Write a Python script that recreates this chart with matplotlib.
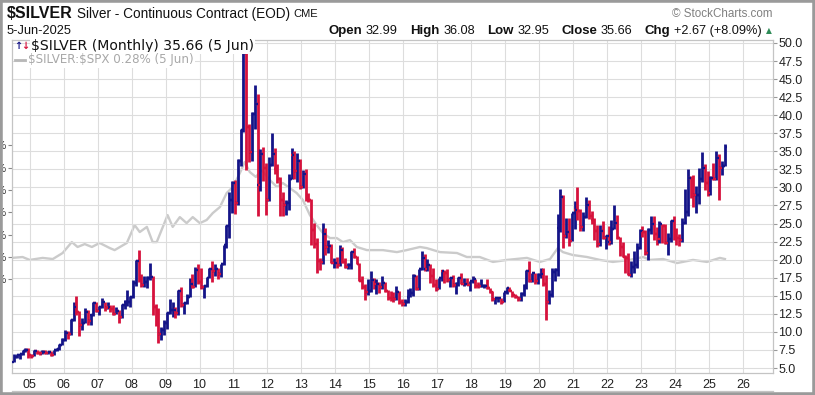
import matplotlib
matplotlib.use("Agg")
import matplotlib.pyplot as plt
from matplotlib.patches import Rectangle
from matplotlib.lines import Line2D

# === figure size in pixels ===
W, H, DPI = 815, 395, 100

# === monthly OHLC for $SILVER, Jul 2004 .. Jun 2025 ===
start_year, start_month = 2004, 7

opens = [
    5.86, 6.56, 6.77, 6.92, 7.30, 7.55,
    6.82, 6.70, 7.39, 7.13, 7.02, 7.28, 7.05, 7.15, 6.85, 7.50, 7.70, 8.20,
    8.83, 9.85, 9.65, 11.60, 13.50, 12.80, 10.90, 11.30, 12.80, 11.55, 12.35, 13.95,
    12.90, 13.40, 14.10, 13.35, 13.40, 13.20, 12.50, 12.90, 12.10, 13.70, 14.20, 14.20,
    14.80, 16.80, 19.80, 17.30, 16.50, 16.90, 17.50, 17.60, 13.40, 12.90, 9.70, 10.20,
    11.30, 12.60, 13.10, 13.10, 12.60, 15.60, 13.70, 14.00, 14.90, 16.60, 16.20, 18.60,
    16.90, 16.20, 16.40, 17.50, 18.70, 18.40, 18.70, 18.00, 19.40, 22.00, 24.60, 28.20,
    30.60, 27.90, 33.60, 37.90, 48.60, 38.40, 34.90, 40.10, 41.60, 30.40, 34.60, 32.70,
    28.20, 33.10, 34.60, 32.50, 31.20, 28.30, 27.60, 27.90, 31.20, 34.50, 32.30, 33.60,
    30.00, 31.80, 28.40, 28.30, 24.10, 22.20, 19.80, 19.70, 23.50, 21.70, 21.90, 19.50,
    19.50, 19.20, 21.30, 19.70, 19.05, 19.30, 21.00, 20.40, 19.40, 17.00, 16.20, 15.50,
    15.60, 17.20, 16.60, 16.60, 16.20, 16.80, 15.60, 14.70, 14.60, 14.50, 15.50, 14.10,
    13.80, 14.20, 14.80, 15.40, 17.80, 15.90, 18.70, 20.30, 18.70, 19.20, 17.80, 16.50,
    15.90, 17.50, 18.40, 18.20, 17.20, 17.40, 16.50, 16.70, 17.50, 16.60, 16.70, 16.50,
    17.00, 17.30, 16.40, 16.30, 16.30, 16.40, 16.10, 15.50, 14.50, 14.70, 14.70, 14.20,
    15.50, 16.10, 15.60, 15.10, 14.90, 14.60, 15.30, 16.40, 18.40, 17.00, 18.10, 17.00,
    17.90, 18.00, 16.60, 14.20, 15.10, 18.30, 18.60, 24.40, 28.70, 23.30, 23.90, 22.60,
    26.40, 26.90, 26.70, 24.50, 25.90, 27.60, 26.10, 25.50, 24.00, 22.20, 24.00, 23.00,
    23.30, 22.40, 24.30, 25.10, 23.00, 21.70, 20.40, 20.30, 17.90, 19.00, 19.20, 21.60,
    24.00, 23.90, 20.90, 24.10, 25.00, 23.60, 22.80, 24.90, 24.60, 22.30, 22.90, 25.30,
    24.10, 23.00, 22.70, 25.10, 26.60, 31.30, 29.40, 28.90, 28.90, 31.20, 32.70, 30.60,
    29.20, 31.30, 31.20, 34.10, 32.70, 32.99,
]
highs = [
    6.90, 6.95, 7.00, 7.45, 7.82, 7.75,
    7.00, 7.45, 7.55, 7.30, 7.45, 7.50, 7.30, 7.30, 7.55, 7.80, 8.30, 9.20,
    10.20, 10.10, 11.80, 14.15, 14.95, 12.90, 11.95, 13.30, 13.00, 12.50, 14.15, 14.20,
    13.60, 14.65, 14.20, 14.15, 13.70, 13.70, 13.50, 13.00, 13.80, 14.35, 15.80, 15.00,
    17.20, 20.00, 21.40, 18.00, 17.70, 17.70, 19.50, 17.75, 13.85, 13.25, 10.70, 11.60,
    12.80, 14.60, 14.20, 13.40, 15.75, 16.20, 14.15, 15.30, 17.50, 18.00, 18.95, 19.45,
    18.85, 16.50, 17.65, 18.80, 19.80, 19.40, 18.80, 19.45, 22.10, 24.80, 29.30, 30.90,
    31.00, 34.00, 38.15, 48.70, 48.70, 38.80, 40.40, 44.25, 43.00, 35.30, 35.60, 33.40,
    34.20, 37.50, 35.40, 33.25, 31.40, 29.40, 28.30, 31.80, 35.40, 35.00, 34.70, 34.00,
    32.40, 32.50, 29.20, 28.45, 25.10, 22.95, 20.30, 25.10, 24.40, 22.75, 22.15, 20.20,
    20.40, 22.05, 21.80, 20.20, 19.50, 21.25, 21.60, 20.50, 19.60, 17.80, 16.70, 17.30,
    18.50, 17.50, 17.30, 16.90, 17.80, 16.85, 15.75, 15.70, 15.50, 16.40, 15.60, 14.60,
    14.60, 15.90, 16.10, 18.00, 17.90, 18.70, 21.20, 20.80, 20.10, 19.35, 18.85, 17.30,
    17.50, 18.50, 18.55, 18.65, 17.60, 17.90, 16.95, 17.60, 18.20, 17.45, 17.40, 17.10,
    17.70, 17.35, 16.90, 17.35, 16.70, 17.30, 16.10, 15.60, 14.75, 14.80, 14.75, 15.55,
    16.20, 16.20, 15.70, 15.30, 14.95, 15.50, 16.60, 18.60, 19.75, 18.20, 18.20, 18.10,
    18.90, 18.90, 17.90, 15.85, 18.80, 18.80, 26.30, 29.80, 28.90, 25.70, 25.80, 26.50,
    28.10, 30.10, 27.00, 26.60, 28.70, 28.25, 26.70, 25.80, 24.85, 24.85, 25.40, 23.40,
    24.70, 25.50, 27.50, 26.20, 23.20, 22.50, 20.60, 20.95, 19.80, 21.20, 22.25, 24.30,
    24.65, 24.10, 24.40, 26.10, 26.10, 24.55, 25.30, 25.00, 24.90, 23.70, 25.50, 26.00,
    24.40, 23.50, 25.80, 29.80, 32.50, 31.55, 31.75, 30.20, 32.70, 34.90, 33.20, 32.30,
    31.60, 33.40, 35.00, 34.60, 33.70, 36.08,
]
lows = [
    5.85, 6.40, 6.25, 6.85, 7.20, 6.40,
    6.35, 6.65, 6.95, 6.80, 6.95, 6.95, 6.90, 6.65, 6.80, 7.40, 7.55, 8.20,
    8.80, 9.00, 9.60, 11.50, 12.30, 9.50, 10.30, 11.25, 10.90, 10.95, 12.20, 12.70,
    12.30, 13.25, 12.95, 13.20, 12.80, 12.35, 12.50, 11.25, 11.95, 13.15, 13.60, 13.40,
    14.70, 16.40, 16.95, 16.20, 16.15, 16.10, 17.20, 12.40, 10.75, 8.45, 8.85, 9.55,
    10.40, 12.50, 12.10, 11.95, 12.40, 13.45, 12.50, 13.80, 14.80, 16.05, 16.15, 16.60,
    16.00, 14.65, 16.20, 17.40, 16.90, 17.80, 17.30, 17.60, 19.25, 21.60, 22.95, 26.50,
    26.30, 27.60, 32.90, 37.70, 32.35, 33.50, 33.60, 38.10, 26.10, 29.50, 30.90, 26.20,
    28.10, 32.90, 31.90, 30.60, 26.10, 26.10, 26.15, 26.90, 31.20, 31.20, 30.70, 29.80,
    29.90, 28.10, 27.95, 22.00, 21.60, 18.20, 18.60, 19.40, 20.60, 20.95, 19.50, 18.85,
    18.90, 19.10, 19.50, 18.90, 18.70, 18.70, 20.30, 19.40, 17.00, 15.90, 14.40, 15.10,
    15.50, 15.90, 15.30, 15.40, 15.90, 15.50, 14.40, 14.25, 14.20, 14.40, 13.90, 13.60,
    13.60, 14.00, 14.80, 15.00, 15.80, 15.80, 18.60, 18.50, 18.50, 16.80, 16.20, 15.60,
    15.90, 17.10, 16.80, 16.90, 16.20, 16.20, 15.20, 16.40, 16.60, 16.40, 16.50, 15.65,
    16.80, 16.10, 16.10, 16.20, 16.10, 16.00, 15.35, 14.30, 13.90, 14.20, 13.90, 14.10,
    15.30, 15.60, 14.80, 14.75, 14.30, 14.30, 15.00, 16.00, 16.90, 16.95, 16.60, 16.60,
    17.40, 16.35, 11.65, 13.85, 14.80, 17.10, 17.80, 23.80, 21.65, 23.00, 21.85, 22.60,
    24.30, 25.50, 24.00, 24.00, 25.80, 25.60, 25.00, 22.70, 21.75, 21.90, 22.80, 21.45,
    22.05, 22.20, 24.20, 22.80, 20.50, 20.40, 18.20, 17.90, 17.60, 18.10, 18.80, 21.50,
    23.10, 20.60, 19.90, 23.60, 22.70, 22.10, 22.30, 22.30, 22.20, 20.70, 22.50, 22.70,
    22.10, 21.95, 22.50, 25.00, 26.00, 28.60, 27.30, 26.50, 27.70, 30.70, 29.70, 28.80,
    29.00, 31.00, 31.00, 28.30, 31.70, 32.95,
]
closes = [
    6.56, 6.77, 6.92, 7.30, 7.55, 6.82,
    6.70, 7.39, 7.13, 7.02, 7.28, 7.05, 7.15, 6.85, 7.50, 7.70, 8.20, 8.83,
    9.85, 9.65, 11.60, 13.50, 12.80, 10.90, 11.30, 12.80, 11.55, 12.35, 13.95, 12.90,
    13.40, 14.10, 13.35, 13.40, 13.20, 12.50, 12.90, 12.10, 13.70, 14.20, 14.20, 14.80,
    16.80, 19.80, 17.30, 16.50, 16.90, 17.50, 17.60, 13.40, 12.90, 9.70, 10.20, 11.30,
    12.60, 13.10, 13.10, 12.60, 15.60, 13.70, 14.00, 14.90, 16.60, 16.20, 18.60, 16.90,
    16.20, 16.40, 17.50, 18.70, 18.40, 18.70, 18.00, 19.40, 22.00, 24.60, 28.20, 30.60,
    27.90, 33.60, 37.90, 48.60, 38.40, 34.90, 40.10, 41.60, 30.40, 34.60, 32.70, 28.20,
    33.10, 34.60, 32.50, 31.20, 28.30, 27.60, 27.90, 31.20, 34.50, 32.30, 33.60, 30.00,
    31.80, 28.40, 28.30, 24.10, 22.20, 19.80, 19.70, 23.50, 21.70, 21.90, 19.50, 19.50,
    19.20, 21.30, 19.70, 19.05, 19.30, 21.00, 20.40, 19.40, 17.00, 16.20, 15.50, 15.60,
    17.20, 16.60, 16.60, 16.20, 16.80, 15.60, 14.70, 14.60, 14.50, 15.50, 14.10, 13.80,
    14.20, 14.80, 15.40, 17.80, 15.90, 18.70, 20.30, 18.70, 19.20, 17.80, 16.50, 15.90,
    17.50, 18.40, 18.20, 17.20, 17.40, 16.50, 16.70, 17.50, 16.60, 16.70, 16.50, 17.00,
    17.30, 16.40, 16.30, 16.30, 16.40, 16.10, 15.50, 14.50, 14.70, 14.70, 14.20, 15.50,
    16.10, 15.60, 15.10, 14.90, 14.60, 15.30, 16.40, 18.40, 17.00, 18.10, 17.00, 17.90,
    18.00, 16.60, 14.20, 15.10, 18.30, 18.60, 24.40, 28.70, 23.30, 23.90, 22.60, 26.40,
    26.90, 26.70, 24.50, 25.90, 27.60, 26.10, 25.50, 24.00, 22.20, 24.00, 23.00, 23.30,
    22.40, 24.30, 25.10, 23.00, 21.70, 20.40, 20.30, 17.90, 19.00, 19.20, 21.60, 24.00,
    23.90, 20.90, 24.10, 25.00, 23.60, 22.80, 24.90, 24.60, 22.30, 22.90, 25.30, 24.10,
    23.00, 22.70, 25.10, 26.60, 31.30, 29.40, 28.90, 28.90, 31.20, 32.70, 30.60, 29.20,
    31.30, 31.20, 34.10, 32.70, 32.99, 35.66,
]

# === $SILVER:$SPX ratio (percent) ===
ratio_dates = [
    2004.47, 2004.79, 2005.00, 2005.38, 2005.68, 2005.97, 2006.24, 2006.41, 2006.62,
    2006.83, 2007.06, 2007.36, 2007.50, 2007.86, 2008.09, 2008.24, 2008.45, 2008.62,
    2008.74, 2009.06, 2009.21, 2009.42, 2009.62, 2009.80, 2010.01, 2010.21, 2010.39,
    2010.60, 2010.80, 2010.98, 2011.19, 2011.33, 2011.48, 2011.66, 2011.83, 2012.07,
    2012.28, 2012.45, 2012.66, 2012.86, 2013.04, 2013.25, 2013.45, 2013.63, 2013.84,
    2014.04, 2014.22, 2014.43, 2014.63, 2014.93, 2015.40, 2015.81, 2016.10, 2016.49,
    2016.69, 2017.08, 2017.58, 2017.87, 2018.25, 2018.64, 2019.05, 2019.64, 2020.02,
    2020.32, 2020.55, 2020.70, 2020.99, 2021.41, 2021.79, 2022.17, 2022.67, 2023.06,
    2023.26, 2023.65, 2024.06, 2024.53, 2024.94, 2025.32, 2025.47,
]
ratio_pct = [
    0.296, 0.300, 0.287, 0.296, 0.291, 0.318, 0.367, 0.345, 0.358,
    0.345, 0.363, 0.340, 0.331, 0.363, 0.443, 0.412, 0.435, 0.367,
    0.367, 0.488, 0.435, 0.479, 0.452, 0.479, 0.452, 0.466, 0.497,
    0.524, 0.587, 0.614, 0.677, 0.726, 0.681, 0.659, 0.690, 0.645,
    0.614, 0.632, 0.609, 0.587, 0.556, 0.488, 0.443, 0.408, 0.385,
    0.385, 0.367, 0.376, 0.345, 0.331, 0.331, 0.322, 0.331, 0.345,
    0.340, 0.322, 0.318, 0.300, 0.300, 0.278, 0.287, 0.296, 0.278,
    0.291, 0.340, 0.322, 0.309, 0.300, 0.287, 0.278, 0.287, 0.300,
    0.287, 0.291, 0.273, 0.287, 0.278, 0.296, 0.291,
]

year_ticks = list(range(2005, 2027))
year_labels = ["%02d" % (y % 100) for y in year_ticks]
price_ticks = [5.0 + 2.5 * i for i in range(19)]
ratio_ticks = [0.2, 0.3, 0.4, 0.5, 0.6, 0.7, 0.8]

UP = "#141488"
DOWN = "#d6123c"
GRID = "#dddddd"
FRAME = "#c4c4c4"
SANS = "Liberation Sans"

assert len(opens) == len(highs) == len(lows) == len(closes) == 252

fig = plt.figure(figsize=(W / DPI, H / DPI), dpi=DPI)
fig.patch.set_facecolor("white")
renderer = fig.canvas.get_renderer()

# plot box in pixels: x 12..773, y 40..373 (from top)
L, R, T, B = 11.7, 773, 40, 373
rect = [L / W, 1 - B / H, (R - L) / W, (B - T) / H]

# === ratio axes (underneath) ===
axr = fig.add_axes(rect)
axr.set_facecolor("white")
axr.plot(ratio_dates, ratio_pct, color="#cbcbcb", lw=1.7, zorder=1)
axr.set_xlim(2004.47, 2026.885)
axr.set_ylim(-0.220, 1.273)
axr.set_yticks(ratio_ticks)
axr.set_yticklabels(["%.1f%%" % v for v in ratio_ticks], fontsize=8, family=SANS, color="#333333")
axr.tick_params(axis="y", length=3, width=0.8, color="#888888", pad=0.5)
axr.set_xticks([])
for s in axr.spines.values():
    s.set_visible(False)

# === price axes (on top) ===
ax = fig.add_axes(rect)
ax.patch.set_visible(False)
ax.set_xlim(2004.47, 2026.885)
ax.set_ylim(4.308, 50.415)
ax.set_axisbelow(True)
ax.grid(True, color=GRID, lw=0.8)
ax.set_xticks(year_ticks)
ax.set_xticklabels(year_labels, fontsize=9, family=SANS, color="#222222")
ax.set_yticks(price_ticks)
ax.set_yticklabels(["%.1f" % v for v in price_ticks], fontsize=9, family=SANS, color="#222222")
ax.yaxis.tick_right()
ax.tick_params(axis="y", length=3, width=0.8, color="#999999", pad=1)
ax.tick_params(axis="x", length=0, pad=4)
for s in ax.spines.values():
    s.set_color(FRAME)
    s.set_linewidth(0.9)

# === OHLC bars ===
xs = []
cols = []
prev = opens[0]
for i in range(len(closes)):
    m = start_month - 1 + i
    xs.append(start_year + m // 12 + (m % 12) / 12 + 1 / 24)
    cols.append(UP if closes[i] >= prev else DOWN)
    prev = closes[i]

tick = 0.085
ax.vlines(xs, lows, highs, colors=cols, lw=2.0, zorder=3)
ax.hlines(opens, [x - tick for x in xs], xs, colors=cols, lw=1.7, zorder=3)
ax.hlines(closes, xs, [x + tick for x in xs], colors=cols, lw=1.7, zorder=3)


def run(x, y, parts, right=False):
    """write text pieces one after another, x/y in pixels from top-left.
    each piece carries the gap to the piece on its left."""
    if right:
        for i in range(len(parts) - 1, -1, -1):
            s, gap, kw = parts[i]
            t = fig.text(x / W, 1 - y / H, s, va="center", ha="right", parse_math=False, **kw)
            x = t.get_window_extent(renderer).x0 - gap
    else:
        for s, gap, kw in parts:
            x += gap
            t = fig.text(x / W, 1 - y / H, s, va="center", ha="left", parse_math=False, **kw)
            x = t.get_window_extent(renderer).x1
    return x


bold = dict(family=SANS, fontweight="bold", fontsize=9.5, color="#111111")
reg = dict(family=SANS, fontsize=9.2, color="#111111")

# === header ===
run(7, 14, [
    ("$SILVER", 0, dict(family=SANS, fontweight="bold", fontsize=11.5, color="#111111")),
    ("Silver - Continuous Contract (EOD)", 4, dict(family=SANS, fontsize=9.8, color="#111111")),
    ("CME", 4, dict(family=SANS, fontsize=8, color="#111111")),
])
fig.text(772 / W, 1 - 14 / H, "\u00a9 StockCharts.com", ha="right", va="center",
         family=SANS, fontsize=8.4, color="#808080")
fig.text(7 / W, 1 - 31 / H, "5-Jun-2025", ha="left", va="center", family=SANS,
         fontsize=9.2, color="#111111")
run(762, 31, [
    ("Open", 0, bold), ("32.99", 4, reg),
    ("High", 12, bold), ("36.08", 4, reg),
    ("Low", 12, bold), ("32.95", 4, reg),
    ("Close", 12, bold), ("35.66", 4, reg),
    ("Chg", 12, bold), ("+2.67 (+8.09%)", 4, reg),
], right=True)
fig.text(766 / W, 1 - 31 / H, "\u25b2", ha="left", va="center", family="DejaVu Sans",
         fontsize=5.5, color="#2e8b57")

# === in-chart legend ===
box = dict(boxstyle="square,pad=0.1", fc="white", ec="none")
fig.text(14 / W, 1 - 46 / H, "\u2191", color=UP, fontsize=7, family="DejaVu Sans",
         va="center", fontweight="bold")
fig.text(21.5 / W, 1 - 46 / H, "\u2193", color=DOWN, fontsize=7, family="DejaVu Sans",
         va="center", fontweight="bold")
fig.text(31 / W, 1 - 46 / H, "$SILVER (Monthly) 35.66 (5 Jun)", color="#111111",
         fontsize=10.1, family="DejaVu Sans", va="center", bbox=box, parse_math=False)
fig.add_artist(Line2D([15 / W, 25 / W], [1 - 60 / H, 1 - 60 / H], color="#b8b8b8", lw=2))
fig.text(28 / W, 1 - 60 / H, "$SILVER:$SPX 0.28% (5 Jun)", color="#a8a8a8",
         fontsize=8.6, family="DejaVu Sans", va="center", bbox=box, parse_math=False)

# === outer frame and start of the next panel ===
fig.add_artist(Line2D([L / W, R / W], [1 - 391 / H, 1 - 391 / H], color=FRAME, lw=0.9))
fig.add_artist(Rectangle((0, 0), 1, 1, transform=fig.transFigure, fill=False,
                         ec="#9a9a9a", lw=4, zorder=10))

fig.savefig("out.png", dpi=DPI, facecolor="white")
